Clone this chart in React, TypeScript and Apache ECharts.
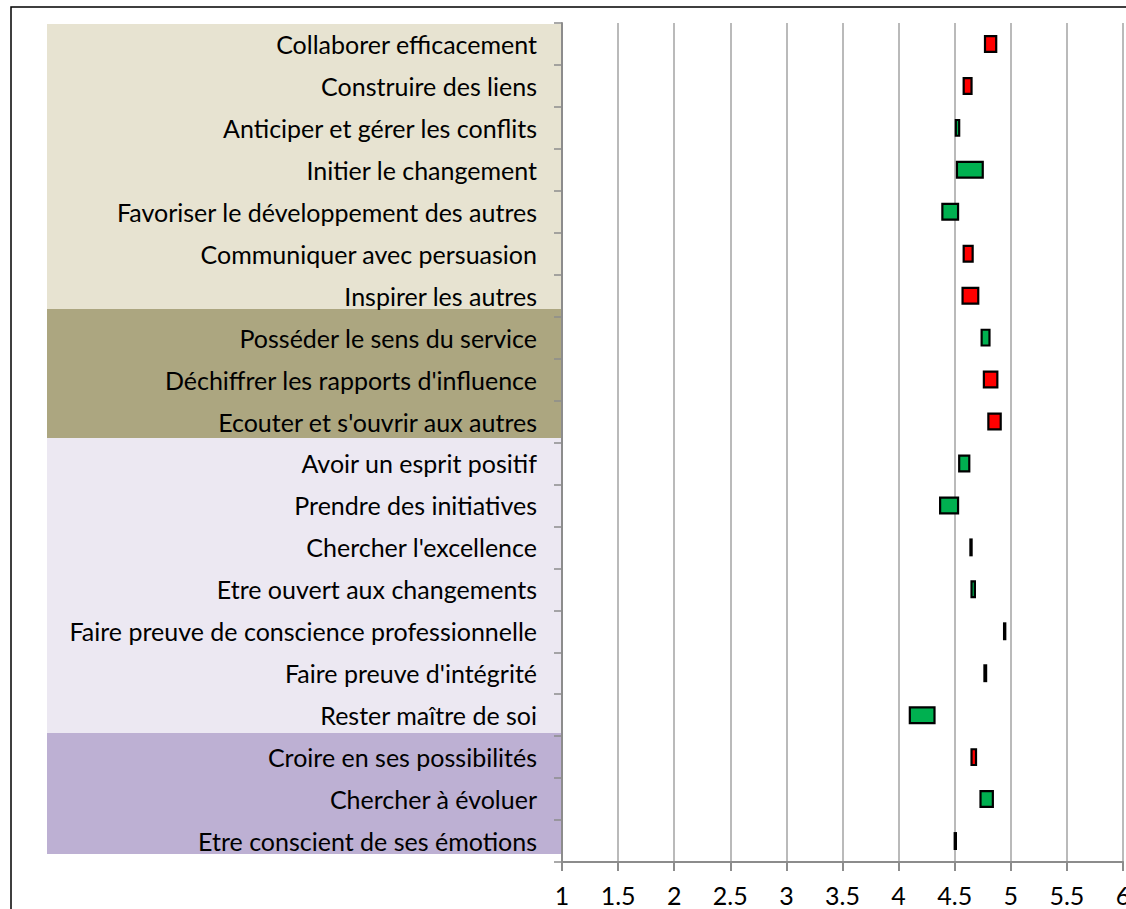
import React, { useEffect, useRef } from "react";
import * as echarts from "echarts";

const categories = [
  "Collaborer efficacement",
  "Construire des liens",
  "Anticiper et gérer les conflits",
  "Initier le changement",
  "Favoriser le développement des autres",
  "Communiquer avec persuasion",
  "Inspirer les autres",
  "Posséder le sens du service",
  "Déchiffrer les rapports d'influence",
  "Ecouter et s'ouvrir aux autres",
  "Avoir un esprit positif",
  "Prendre des initiatives",
  "Chercher l'excellence",
  "Etre ouvert aux changements",
  "Faire preuve de conscience professionnelle",
  "Faire preuve d'intégrité",
  "Rester maître de soi",
  "Croire en ses possibilités",
  "Chercher à évoluer",
  "Etre conscient de ses émotions",
];

// opening value of each floating bar
const debut = [
  4.87, 4.65, 4.51, 4.52, 4.39, 4.66, 4.71, 4.74, 4.88, 4.91,
  4.54, 4.37, 4.64, 4.65, 4.94, 4.765, 4.1, 4.69, 4.73, 4.5,
];
// closing value of each floating bar
const fin = [
  4.77, 4.58, 4.54, 4.75, 4.53, 4.58, 4.57, 4.81, 4.76, 4.8,
  4.63, 4.53, 4.64, 4.68, 4.94, 4.78, 4.32, 4.65, 4.84, 4.5,
];

const xTicks = ["1", "1.5", "2", "2.5", "3", "3.5", "4", "4.5", "5", "5.5", "6"];

const FONT = "Lato, 'Liberation Sans', sans-serif";

export default function App() {
  const ref = useRef<HTMLDivElement>(null);

  useEffect(() => {
    if (!ref.current) return;
    const chart = echarts.init(ref.current, undefined, { renderer: "svg" });
    const data = categories.map((_, i) => [i, debut[i], fin[i]]);

    chart.setOption({
      animation: false,
      backgroundColor: "#ffffff",
      grid: {
        left: 562,
        right: 3,
        top: 23,
        bottom: 47,
        containLabel: false,
        outerBoundsMode: "none",
      },
      xAxis: {
        type: "value",
        min: 1,
        max: 6,
        interval: 0.5,
        axisLine: { show: true, lineStyle: { color: "#8c8c8c", width: 2 } },
        axisTick: { show: true, length: 9, lineStyle: { color: "#8c8c8c", width: 2 } },
        splitLine: { show: true, lineStyle: { color: "#a3a3a3", width: 1.5 } },
        axisLabel: {
          margin: 20,
          color: "#000",
          fontSize: 25,
          fontFamily: FONT,
          hideOverlap: false,
          formatter: (v: number) => {
            const idx = Math.round((v - 1) / 0.5);
            return xTicks[idx] ?? String(v);
          },
        },
      },
      yAxis: {
        type: "category",
        inverse: true,
        data: categories,
        axisLine: { show: true, lineStyle: { color: "#8c8c8c", width: 2 } },
        axisTick: { show: true, length: 8, lineStyle: { color: "#8c8c8c", width: 1.5 } },
        splitLine: { show: false },
        axisLabel: {
          margin: 25,
          color: "#000",
          fontSize: 25,
          fontFamily: FONT,
        },
      },
      graphic: [
        { type: "rect", z: -10, shape: { x: 47, y: 24, width: 514, height: 285 }, style: { fill: "#e7e3d1" } },
        { type: "rect", z: -10, shape: { x: 47, y: 309, width: 514, height: 129 }, style: { fill: "#aca680" } },
        { type: "rect", z: -10, shape: { x: 47, y: 438, width: 514, height: 295 }, style: { fill: "#ece8f2" } },
        { type: "rect", z: -10, shape: { x: 47, y: 733, width: 514, height: 121 }, style: { fill: "#bdb0d3" } },
        {
          type: "rect",
          z: 100,
          silent: true,
          shape: { x: 11, y: 7, width: 1300, height: 1000 },
          style: { fill: "none", stroke: "#000", lineWidth: 1.5 },
        },
      ],
      series: [
        {
          type: "custom",
          data,
          encode: { x: [1, 2], y: 0 },
          z: 5,
          renderItem: (params: any, api: any) => {
            const cat = api.value(0);
            const a = api.value(1);
            const b = api.value(2);
            const lo = Math.min(a, b);
            const hi = Math.max(a, b);
            const p1 = api.coord([lo, cat]);
            const p2 = api.coord([hi, cat]);
            const h = api.size([0, 1])[1] * 0.375;
            const w = Math.max(p2[0] - p1[0], 1.2);
            return {
              type: "rect",
              shape: { x: p1[0], y: p1[1] - h / 2, width: w, height: h },
              style: {
                fill: b > a ? "#00b050" : b < a ? "#ff0000" : "#000000",
                stroke: "#000000",
                lineWidth: 2.2,
              },
            };
          },
        },
      ],
    });

    return () => chart.dispose();
  }, []);

  return (
    <div
      ref={ref}
      style={{ position: "absolute", left: 0, top: 0, width: 1126, height: 909 }}
    />
  );
}
